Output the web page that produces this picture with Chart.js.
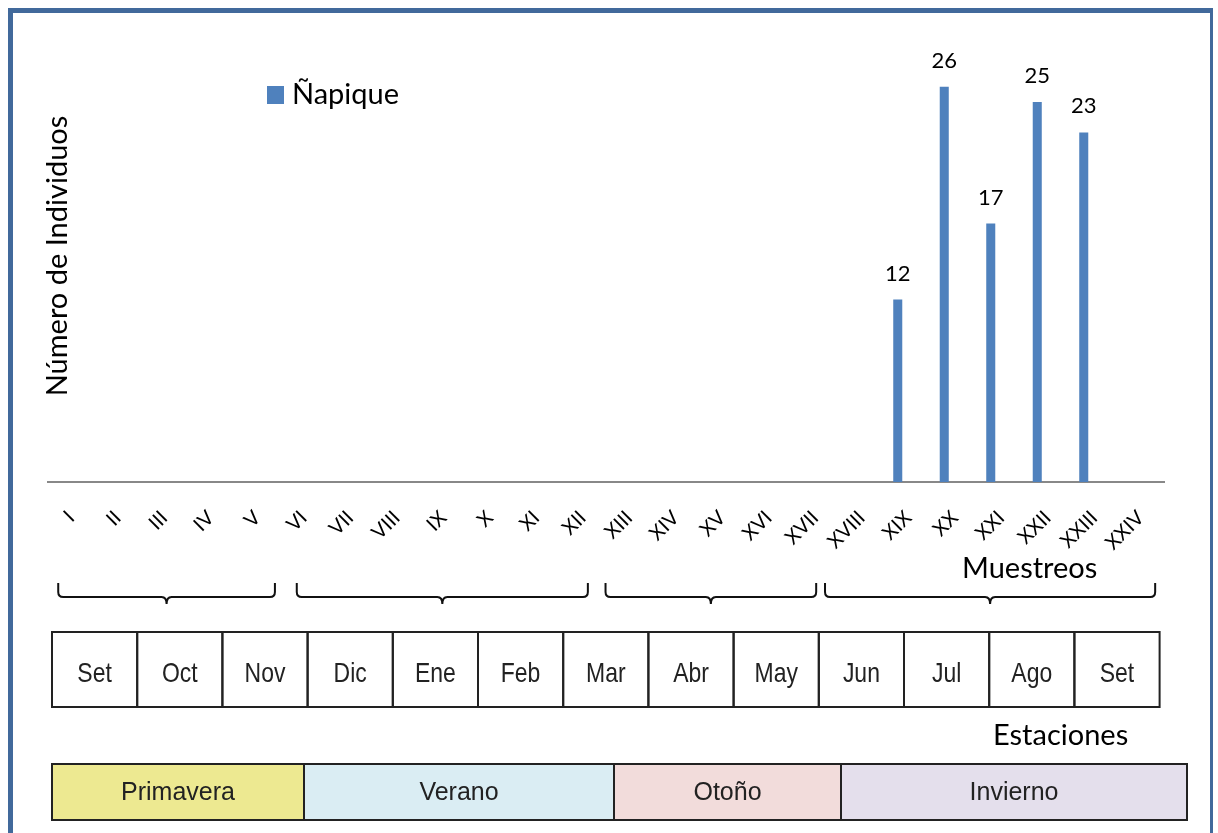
<!DOCTYPE html>
<html lang="es">
<head>
<meta charset="utf-8">
<title>Ñapique - Número de Individuos por muestreo</title>
<script src="https://cdn.jsdelivr.net/npm/chart.js@4.4.1/dist/chart.umd.min.js"></script>
<style>
  html, body { margin: 0; padding: 0; background: #fff; }
  #wrap { width: 1218px; height: 833px; }
</style>
</head>
<body>
<div id="wrap"><canvas id="grafico" width="1218" height="833"></canvas></div>
<script>
// ---- datos ----
const muestreos = ['I','II','III','IV','V','VI','VII','VIII','IX','X','XI','XII',
  'XIII','XIV','XV','XVI','XVII','XVIII','XIX','XX','XXI','XXII','XXIII','XXIV'];
// individuos de Ñapique por muestreo (null = sin registro)
const napique = [null,null,null,null,null,null,null,null,null,null,null,null,
  null,null,null,null,null,null,12,26,17,25,23,null];
// segunda serie del gráfico original, vacía: sólo ocupa su sitio en el grupo
const otraSerie = [null,null,null,null,null,null,null,null,null,null,null,null,
  null,null,null,null,null,null,null,null,null,null,null,null];
const meses = ['Set','Oct','Nov','Dic','Ene','Feb','Mar','Abr','May','Jun','Jul','Ago','Set'];
const estaciones = ['Primavera','Verano','Otoño','Invierno'];

// ---- dibujo (posiciones y estilos) ----
const AZUL = '#4f81bd';
const MARCO = '#41699b';
const coloresEstacion = ['#ede991','#daedf3','#f2dcdb','#e4dfec'];
const llaves = [[-0.28, 4.38], [4.85, 11.11], [11.49, 16.02], [16.21, 23.31]]; // en unidades de categoría
const bordesEstacion = [52, 304, 614, 841, 1187];
const tabla = { left: 52, top: 632, cell: 85.2, h: 75 };
const franja = { top: 764, h: 56 };
const FUENTE = 'Lato, "Open Sans", sans-serif';

const decoracion = {
  id: 'decoracion',
  beforeDraw(chart) {
    const ctx = chart.ctx;
    ctx.save();
    ctx.fillStyle = '#fff';
    ctx.fillRect(0, 0, chart.width, chart.height);
    ctx.fillStyle = MARCO;
    ctx.fillRect(8, 8, 1205, 5);
    ctx.fillRect(8, 8, 5, 825);
    ctx.fillRect(1210, 8, 3, 825);
    ctx.restore();
  },
  afterDatasetsDraw(chart) {
    // etiquetas de valor
    const ctx = chart.ctx;
    const meta = chart.getDatasetMeta(0);
    ctx.save();
    ctx.font = '22px ' + FUENTE;
    ctx.fillStyle = '#000';
    ctx.textAlign = 'center';
    ctx.textBaseline = 'alphabetic';
    meta.data.forEach((bar, i) => {
      const v = napique[i];
      if (v == null) return;
      ctx.fillText(String(v), bar.x, bar.y - 19);
    });
    ctx.restore();
  },
  afterDraw(chart) {
    const ctx = chart.ctx;
    const x = chart.scales.x;
    ctx.save();

    // leyenda
    ctx.fillStyle = AZUL;
    ctx.fillRect(267, 86, 17, 18);
    ctx.fillStyle = '#000';
    ctx.font = '29px ' + FUENTE;
    ctx.textAlign = 'left';
    ctx.textBaseline = 'alphabetic';
    ctx.fillText(chart.data.datasets[0].label, 292, 104);

    // título eje y
    ctx.save();
    ctx.translate(67, 256);
    ctx.rotate(-Math.PI / 2);
    ctx.font = '29px ' + FUENTE;
    ctx.textAlign = 'center';
    ctx.fillText('Número de Individuos', 0, 0);
    ctx.restore();

    ctx.font = '29px ' + FUENTE;
    ctx.fillText('Muestreos', 962, 578);
    ctx.fillText('Estaciones', 993, 745);

    // llaves
    ctx.strokeStyle = '#111';
    ctx.lineWidth = 2;
    llaves.forEach(([a, b]) => {
      const L = x.getPixelForValue(a), R = x.getPixelForValue(b), C = (L + R) / 2;
      const t = 583, m = 597, p = 604;
      ctx.beginPath();
      ctx.moveTo(L, t);
      ctx.lineTo(L, m - 5);
      ctx.quadraticCurveTo(L, m, L + 5, m);
      ctx.lineTo(C - 5, m);
      ctx.quadraticCurveTo(C, m, C, p);
      ctx.quadraticCurveTo(C, m, C + 5, m);
      ctx.lineTo(R - 5, m);
      ctx.quadraticCurveTo(R, m, R, m - 5);
      ctx.lineTo(R, t);
      ctx.stroke();
    });

    // tabla de meses
    ctx.lineWidth = 2;
    ctx.strokeStyle = '#222';
    ctx.fillStyle = '#222';
    ctx.textAlign = 'center';
    meses.forEach((m, i) => {
      const cx = tabla.left + i * tabla.cell;
      ctx.strokeRect(cx, tabla.top, tabla.cell, tabla.h);
      ctx.save();
      ctx.translate(cx + tabla.cell / 2, 682);
      ctx.scale(0.82, 1);
      ctx.font = '28px "Liberation Sans", Arial, sans-serif';
      ctx.fillText(m, 0, 0);
      ctx.restore();
    });

    // franja de estaciones
    estaciones.forEach((e, i) => {
      const a = bordesEstacion[i], b = bordesEstacion[i + 1];
      ctx.fillStyle = coloresEstacion[i];
      ctx.fillRect(a, franja.top, b - a, franja.h);
      ctx.strokeStyle = '#222';
      ctx.strokeRect(a, franja.top, b - a, franja.h);
      ctx.fillStyle = '#222';
      ctx.font = '25px "Liberation Sans", Arial, sans-serif';
      ctx.fillText(e, (a + b) / 2, 800);
    });
    ctx.restore();
  }
};

new Chart(document.getElementById('grafico'), {
  type: 'bar',
  data: {
    labels: muestreos,
    datasets: [
      { label: 'Ñapique', data: napique, backgroundColor: AZUL,
        categoryPercentage: 0.903, barPercentage: 0.43 },
      { label: '', data: otraSerie, backgroundColor: 'rgba(0,0,0,0)',
        categoryPercentage: 0.903, barPercentage: 0.43 }
    ]
  },
  options: {
    responsive: false,
    animation: false,
    devicePixelRatio: 1,
    layout: { padding: { left: 48, right: 54, top: 26, bottom: 0 } },
    plugins: { legend: { display: false }, tooltip: { enabled: false } },
    scales: {
      y: { display: false, min: 0, max: 30 },
      x: {
        grid: { display: false, drawTicks: false },
        border: { display: true, color: '#888', width: 2 },
        ticks: { autoSkip: false, minRotation: 45, maxRotation: 45, padding: 24,
          color: '#000', font: { family: FUENTE, size: 20 } },
        afterFit(scale) { scale.height = 833 - 482; }
      }
    }
  },
  plugins: [decoracion]
});
</script>
</body>
</html>
